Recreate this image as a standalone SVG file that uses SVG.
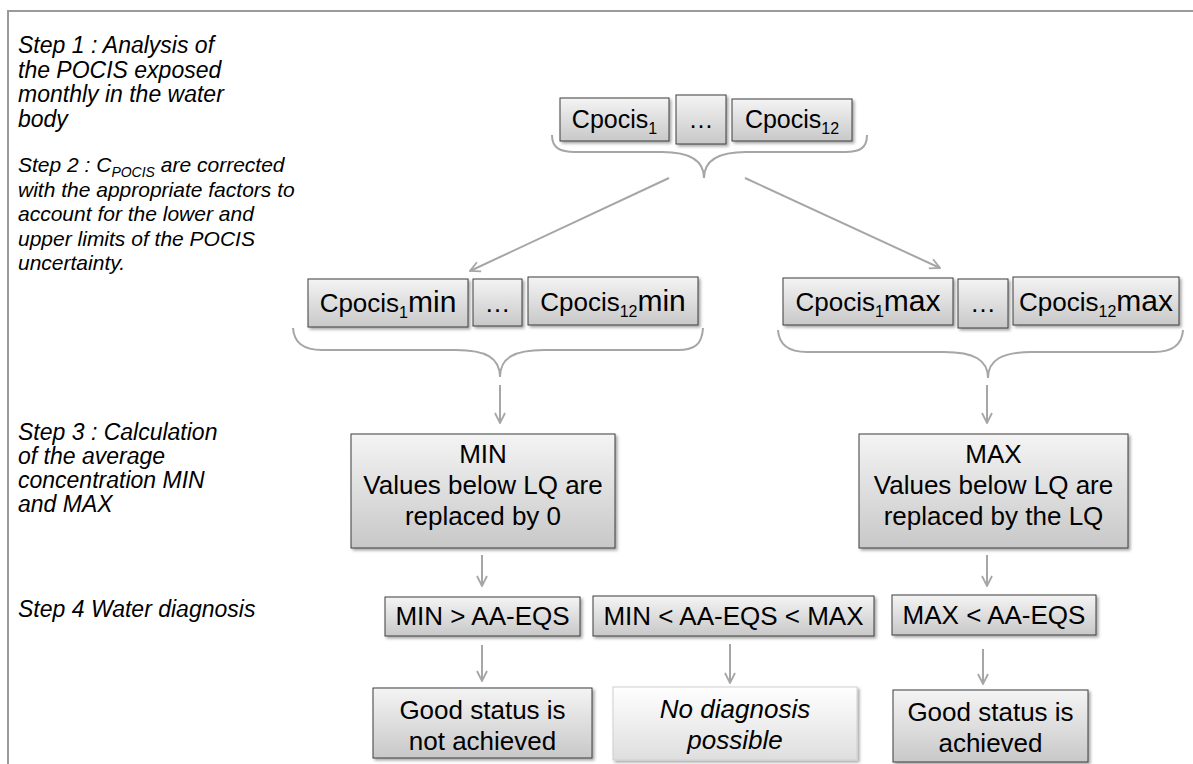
<svg xmlns="http://www.w3.org/2000/svg" width="1193" height="764" viewBox="0 0 1193 764">
<defs>
<linearGradient id="g" x1="0" y1="0" x2="0" y2="1">
<stop offset="0" stop-color="#f4f4f4"/>
<stop offset="1" stop-color="#c8c8c8"/>
</linearGradient>
<linearGradient id="gl" x1="0" y1="0" x2="0" y2="1">
<stop offset="0" stop-color="#ffffff"/>
<stop offset="1" stop-color="#dedede"/>
</linearGradient>
<filter id="sh" x="-10%" y="-10%" width="130%" height="140%">
<feDropShadow dx="2" dy="2" stdDeviation="1.5" flood-color="#000" flood-opacity="0.35"/>
</filter>
<marker id="ah" viewBox="0 0 12 12" refX="11" refY="6" markerWidth="12" markerHeight="12" markerUnits="userSpaceOnUse" orient="auto">
<path d="M1,1 L11,6 L1,11" fill="none" stroke="#a6a6a6" stroke-width="1.8"/>
</marker>
<style>
.box{fill:url(#g);stroke:#3c3c3c;stroke-width:1;filter:url(#sh)}
.lbox{fill:url(#gl);stroke:#d0d0d0;stroke-width:1;filter:url(#sh)}
.t{font-family:"Liberation Sans",Arial,sans-serif;fill:#000}
.step{font-family:"Liberation Sans",Arial,sans-serif;font-style:italic;font-size:23px;fill:#000}
.step2{font-size:21px}
.bt{font-size:26px;text-anchor:middle}
.con{fill:none;stroke:#a6a6a6;stroke-width:2}
.arr{marker-end:url(#ah)}
.frame{fill:none;stroke:#9a9a9a;stroke-width:2}
</style>
</defs>

<path class="frame" d="M8,764 L8,11 L1193,11"/>

<g id="steps">
<text class="step" x="18" y="53">Step 1 : Analysis of</text>
<text class="step" x="18" y="78">the POCIS exposed</text>
<text class="step" x="18" y="102">monthly in the water</text>
<text class="step" x="18" y="127">body</text>
<text class="step step2" x="18" y="172">Step 2 : C<tspan font-size="14" dy="5">POCIS</tspan><tspan dy="-5"> are corrected</tspan></text>
<text class="step step2" x="18" y="197">with the appropriate factors to</text>
<text class="step step2" x="18" y="221">account for the lower and</text>
<text class="step step2" x="18" y="246">upper limits of the POCIS</text>
<text class="step step2" x="18" y="270">uncertainty.</text>
<text class="step" x="18" y="440">Step 3 : Calculation</text>
<text class="step" x="18" y="464">of the average</text>
<text class="step" x="18" y="488">concentration MIN</text>
<text class="step" x="18" y="512">and MAX</text>
<text class="step" x="18" y="617">Step 4 Water diagnosis</text>
</g>

<g id="connectors">
<path class="con" d="M552,135 C552,148 560,152 575,152 L662,152 C690,152 704,160 704,178 C704,160 718,152 746,152 L845,152 C860,152 867,148 867,135"/>
<path class="con" d="M293,328 C294,344 305,350 322,350 L456,350 C486,350 500,358 500,377 C500,358 514,350 544,350 L678,350 C695,350 702,344 703,328"/>
<path class="con" d="M778,330 C779,346 790,352 807,352 L944,352 C974,352 988,360 988,378 C988,360 1002,352 1032,352 L1154,352 C1171,352 1182,346 1183,330"/>
<line class="con arr" x1="669" y1="178" x2="470" y2="271"/>
<line class="con arr" x1="745" y1="178" x2="940" y2="268"/>
<line class="con arr" x1="500" y1="385" x2="500" y2="423"/>
<line class="con arr" x1="987" y1="385" x2="987" y2="423"/>
<line class="con arr" x1="482" y1="555" x2="482" y2="586"/>
<line class="con arr" x1="987" y1="555" x2="987" y2="586"/>
<line class="con arr" x1="482" y1="645" x2="482" y2="681"/>
<line class="con arr" x1="730" y1="644" x2="730" y2="683"/>
<line class="con arr" x1="983" y1="649" x2="983" y2="684"/>
</g>

<g id="cpocis1">
<rect class="box" x="560" y="98" width="109" height="43"/>
<text class="t" x="614.5" y="128" font-size="25" text-anchor="middle">Cpocis<tspan font-size="16" dy="6">1</tspan></text>
</g>
<g id="dots1">
<rect class="box" x="676" y="95" width="50" height="49"/>
<text class="t" x="701" y="128" font-size="25" text-anchor="middle">…</text>
</g>
<g id="cpocis12">
<rect class="box" x="732" y="99" width="120" height="42"/>
<text class="t" x="792" y="128" font-size="25" text-anchor="middle">Cpocis<tspan font-size="16" dy="6">12</tspan></text>
</g>

<g id="cpocis1min">
<rect class="box" x="308" y="279" width="160" height="48"/>
<text class="t" x="388" y="312" font-size="26" text-anchor="middle">Cpocis<tspan font-size="16" dy="6">1</tspan><tspan font-size="30" dy="-6">min</tspan></text>
</g>
<g id="dots2">
<rect class="box" x="473" y="279" width="49" height="47"/>
<text class="t" x="497.5" y="312" font-size="26" text-anchor="middle">…</text>
</g>
<g id="cpocis12min">
<rect class="box" x="528" y="277" width="170" height="48"/>
<text class="t" x="613" y="311" font-size="26" text-anchor="middle">Cpocis<tspan font-size="16" dy="6">12</tspan><tspan font-size="30" dy="-6">min</tspan></text>
</g>

<g id="cpocis1max">
<rect class="box" x="783" y="278" width="170" height="47"/>
<text class="t" x="868" y="311" font-size="26" text-anchor="middle">Cpocis<tspan font-size="16" dy="6">1</tspan><tspan font-size="30" dy="-6">max</tspan></text>
</g>
<g id="dots3">
<rect class="box" x="958" y="279" width="50" height="49"/>
<text class="t" x="983" y="312" font-size="26" text-anchor="middle">…</text>
</g>
<g id="cpocis12max">
<rect class="box" x="1013" y="277" width="166" height="48"/>
<text class="t" x="1096" y="311" font-size="26" text-anchor="middle">Cpocis<tspan font-size="16" dy="6">12</tspan><tspan font-size="30" dy="-6">max</tspan></text>
</g>

<g id="min">
<rect class="box" x="351" y="434" width="264" height="114"/>
<text class="t bt" x="483" y="463">MIN</text>
<text class="t bt" x="483" y="494">Values below LQ are</text>
<text class="t bt" x="483" y="525">replaced by 0</text>
</g>
<g id="max">
<rect class="box" x="859" y="434" width="269" height="114"/>
<text class="t bt" x="993.5" y="463">MAX</text>
<text class="t bt" x="993.5" y="494">Values below LQ are</text>
<text class="t bt" x="993.5" y="525">replaced by the LQ</text>
</g>

<g id="minGt">
<rect class="box" x="385" y="597" width="195" height="39"/>
<text class="t bt" x="482.5" y="625">MIN &gt; AA-EQS</text>
</g>
<g id="between">
<rect class="box" x="593" y="596" width="281" height="40"/>
<text class="t bt" x="733.5" y="625">MIN &lt; AA-EQS &lt; MAX</text>
</g>
<g id="maxLt">
<rect class="box" x="892" y="595" width="204" height="40"/>
<text class="t bt" x="994" y="624">MAX &lt; AA-EQS</text>
</g>

<g id="notAchieved">
<rect class="box" x="373" y="688" width="219" height="70"/>
<text class="t bt" x="482.5" y="719">Good status is</text>
<text class="t bt" x="482.5" y="750">not achieved</text>
</g>
<g id="noDiag">
<rect class="lbox" x="613" y="687" width="244" height="73"/>
<text class="t bt" x="735" y="718" font-style="italic">No diagnosis</text>
<text class="t bt" x="735" y="749" font-style="italic">possible</text>
</g>
<g id="achieved">
<rect class="box" x="893" y="690" width="195" height="72"/>
<text class="t bt" x="990.5" y="721">Good status is</text>
<text class="t bt" x="990.5" y="752">achieved</text>
</g>
</svg>
